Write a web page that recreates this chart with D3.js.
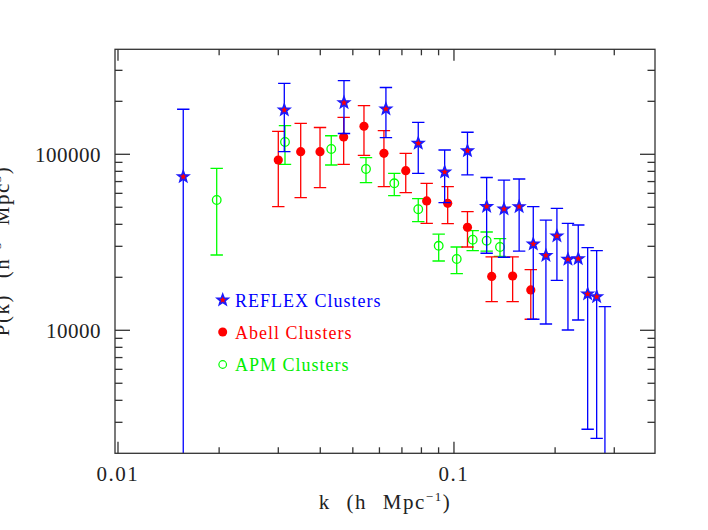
<!DOCTYPE html>
<html><head><meta charset="utf-8">
<script src="https://cdn.jsdelivr.net/npm/d3@7"></script>
<style>body{margin:0;background:#fff}</style>
</head><body>
<svg id="chart" width="708" height="530"></svg>
<script>
// ---- data ----
const reflexK  = [0.01564, 0.03126, 0.04706, 0.06273, 0.07829, 0.09382, 0.1097, 0.1251, 0.1409, 0.1563, 0.1722, 0.1878, 0.2025, 0.2184, 0.2344, 0.2500, 0.2659, 0.2814];
const reflexP  = [74600, 178500, 196500, 180900, 115500, 79300, 104700, 50500, 48900, 50400, 30900, 26600, 34350, 25300, 25500, 16080, 15520, 1000];
const reflexHi = [180300, 253200, 261900, 239600, 152000, 105800, 133400, 73800, 71400, 72400, 50400, 42300, 49300, 40550, 39660, 29460, 28330, 13620];
const reflexLo = [100, 103500, 131300, 124300, 78000, 53200, 76300, 27400, 26000, 28200, 11550, 10860, 19190, 10040, 11440, 2740, 2433, 100];

const abellK  = [0.03000, 0.03498, 0.03993, 0.04696, 0.05397, 0.06188, 0.07186, 0.08295, 0.09579, 0.1097, 0.1295, 0.1495, 0.1693];
const abellP  = [92820, 103500, 103500, 125400, 144300, 101300, 80700, 54300, 52660, 38470, 20220, 20350, 16950];
const abellHi = [135100, 150000, 142000, 161900, 188800, 136200, 101300, 68400, 65450, 47200, 26100, 26140, 22100];
const abellLo = [50400, 56660, 64600, 87740, 98700, 65450, 60500, 40550, 40400, 29740, 14540, 14540, 11550];

const apmK  = [0.01967, 0.03141, 0.04313, 0.05472, 0.06643, 0.07829, 0.09006, 0.1019, 0.1137, 0.1251, 0.1371];
const apmP  = [54990, 117500, 107200, 82500, 68400, 48750, 30200, 25410, 32720, 32290, 29740];
const apmHi = [83260, 145400, 127500, 95650, 78000, 55930, 35160, 29740, 36810, 36190, 33150];
const apmLo = [26780, 87740, 86950, 68970, 58170, 41400, 24760, 20970, 28330, 28200, 26330];

const xMajorTicks = [0.01, 0.1];
const xTickLabels = ["0.01", "0.1"];
const xMinorTicks = [0.02, 0.03, 0.04, 0.05, 0.06, 0.07, 0.08, 0.09, 0.2, 0.3];
const yMajorTicks = [10000, 100000];
const yTickLabels = ["10000", "100000"];
const yMinorTicks = [3000, 4000, 5000, 6000, 7000, 8000, 9000, 20000, 30000, 40000, 50000, 60000, 70000, 80000, 90000, 200000, 300000];

const legendLabels = ["REFLEX Clusters", "Abell Clusters", "APM Clusters"];

// ---- layout ----
const L = 115, R = 655, T = 49.3, B = 453.3;
const FONT = "'Liberation Serif', 'Times New Roman', serif";
const svg = d3.select("#chart");
const x = d3.scaleLog().domain([0.009797, 0.3966]).range([L, R]);
const y = d3.scaleLog().domain([2000, 395000]).range([B, T]);

svg.append("defs").append("clipPath").attr("id", "clip")
  .append("rect").attr("x", L).attr("y", T).attr("width", R - L).attr("height", B - T);

const plot = svg.append("g").attr("clip-path", "url(#clip)");

function starPath(cx, cy, Ro) {
  const Ri = Ro * 0.42;
  let p = "";
  for (let i = 0; i < 10; i++) {
    const a = -Math.PI / 2 + i * Math.PI / 5;
    const r = i % 2 === 0 ? Ro : Ri;
    p += (i === 0 ? "M" : "L") + (cx + r * Math.cos(a)).toFixed(2) + "," + (cy + r * Math.sin(a)).toFixed(2);
  }
  return p + "Z";
}

function errBars(K, P, Lo, Hi, color) {
  const g = plot.append("g").attr("stroke", color).attr("stroke-width", 1.3).attr("fill", "none");
  const cap = 6.2;
  K.forEach((k, i) => {
    const cx = x(k), yl = y(Lo[i]), yh = y(Hi[i]);
    g.append("line").attr("x1", cx).attr("x2", cx).attr("y1", yl).attr("y2", yh);
    g.append("line").attr("x1", cx - cap).attr("x2", cx + cap).attr("y1", yh).attr("y2", yh);
    g.append("line").attr("x1", cx - cap).attr("x2", cx + cap).attr("y1", yl).attr("y2", yl);
  });
}

// APM (green open circles)
errBars(apmK, apmP, apmLo, apmHi, "#00ff00");
plot.append("g").selectAll("circle").data(apmK).join("circle")
  .attr("cx", d => x(d)).attr("cy", (d, i) => y(apmP[i])).attr("r", 4.3)
  .attr("fill", "none").attr("stroke", "#00ff00").attr("stroke-width", 1.3);

// Abell (red filled circles)
errBars(abellK, abellP, abellLo, abellHi, "#ff0000");
plot.append("g").selectAll("circle").data(abellK).join("circle")
  .attr("cx", d => x(d)).attr("cy", (d, i) => y(abellP[i])).attr("r", 4.6)
  .attr("fill", "#ff0000");

// REFLEX (blue stars with red centre)
errBars(reflexK, reflexP, reflexLo, reflexHi, "#0000ff");
plot.append("g").selectAll("path").data(reflexK).join("path")
  .attr("d", (d, i) => starPath(x(d), y(reflexP[i]), 5.8))
  .attr("fill", "#ff0000").attr("stroke", "#1a1aff").attr("stroke-width", 1.6)
  .attr("stroke-linejoin", "miter");

// ---- frame and ticks ----
const axisColor = "#333";
const ax = svg.append("g").attr("stroke", axisColor).attr("stroke-width", 1.3);
ax.append("rect").attr("x", L).attr("y", T).attr("width", R - L).attr("height", B - T).attr("fill", "none");
xMajorTicks.forEach(v => {
  ax.append("line").attr("x1", x(v)).attr("x2", x(v)).attr("y1", B).attr("y2", B - 11.5);
  ax.append("line").attr("x1", x(v)).attr("x2", x(v)).attr("y1", T).attr("y2", T + 11.5);
});
xMinorTicks.forEach(v => {
  ax.append("line").attr("x1", x(v)).attr("x2", x(v)).attr("y1", B).attr("y2", B - 6);
  ax.append("line").attr("x1", x(v)).attr("x2", x(v)).attr("y1", T).attr("y2", T + 6);
});
yMajorTicks.forEach(v => {
  ax.append("line").attr("x1", L).attr("x2", L + 15).attr("y1", y(v)).attr("y2", y(v));
  ax.append("line").attr("x1", R).attr("x2", R - 15).attr("y1", y(v)).attr("y2", y(v));
});
yMinorTicks.forEach(v => {
  ax.append("line").attr("x1", L).attr("x2", L + 7.5).attr("y1", y(v)).attr("y2", y(v));
  ax.append("line").attr("x1", R).attr("x2", R - 7.5).attr("y1", y(v)).attr("y2", y(v));
});

// tick labels
const lab = svg.append("g").attr("font-family", FONT).attr("font-size", 21).attr("fill", "#222");
xMajorTicks.forEach((v, i) => {
  lab.append("text").attr("x", x(v)).attr("y", 481).attr("text-anchor", "middle")
    .attr("letter-spacing", 1.5).text(xTickLabels[i]);
});
yMajorTicks.forEach((v, i) => {
  lab.append("text").attr("x", 101).attr("y", y(v) + 7.5).attr("text-anchor", "end")
    .attr("letter-spacing", 0.5).text(yTickLabels[i]);
});

// axis titles
const xt = lab.append("text").attr("x", 385).attr("y", 509).attr("text-anchor", "middle")
  .attr("letter-spacing", 1.5).attr("word-spacing", 9).attr("xml:space", "preserve");
xt.append("tspan").text("k (h Mpc");
xt.append("tspan").attr("font-size", 13).attr("dy", -8).text("−1");
xt.append("tspan").attr("dy", 8).text(")");

const yt = lab.append("text").attr("transform", "translate(9,251) rotate(-90)").attr("text-anchor", "middle")
  .attr("letter-spacing", 1.5).attr("word-spacing", 9);
yt.append("tspan").text("P(k) (h");
yt.append("tspan").attr("font-size", 13).attr("dy", -8).text("−3");
yt.append("tspan").attr("dy", 8).text(" Mpc");
yt.append("tspan").attr("font-size", 13).attr("dy", -8).text("3");
yt.append("tspan").attr("dy", 8).text(")");

// ---- legend ----
const lg = svg.append("g").attr("font-family", FONT).attr("font-size", 18).attr("letter-spacing", 1);
const legY = [300, 332, 364.5];
const legColors = ["#0000ff", "#ff0000", "#00ee00"];
lg.append("path").attr("d", starPath(222.7, legY[0], 5.8)).attr("fill", "#ff0000")
  .attr("stroke", "#1a1aff").attr("stroke-width", 1.6);
lg.append("circle").attr("cx", 222.7).attr("cy", legY[1]).attr("r", 4.5).attr("fill", "#ff0000");
lg.append("circle").attr("cx", 222.7).attr("cy", legY[2]).attr("r", 3.8).attr("fill", "none")
  .attr("stroke", "#00ff00").attr("stroke-width", 1.2);
legendLabels.forEach((t, i) => {
  lg.append("text").attr("x", 235).attr("y", legY[i] + 6.5).attr("fill", legColors[i]).text(t);
});
</script>
</body></html>
